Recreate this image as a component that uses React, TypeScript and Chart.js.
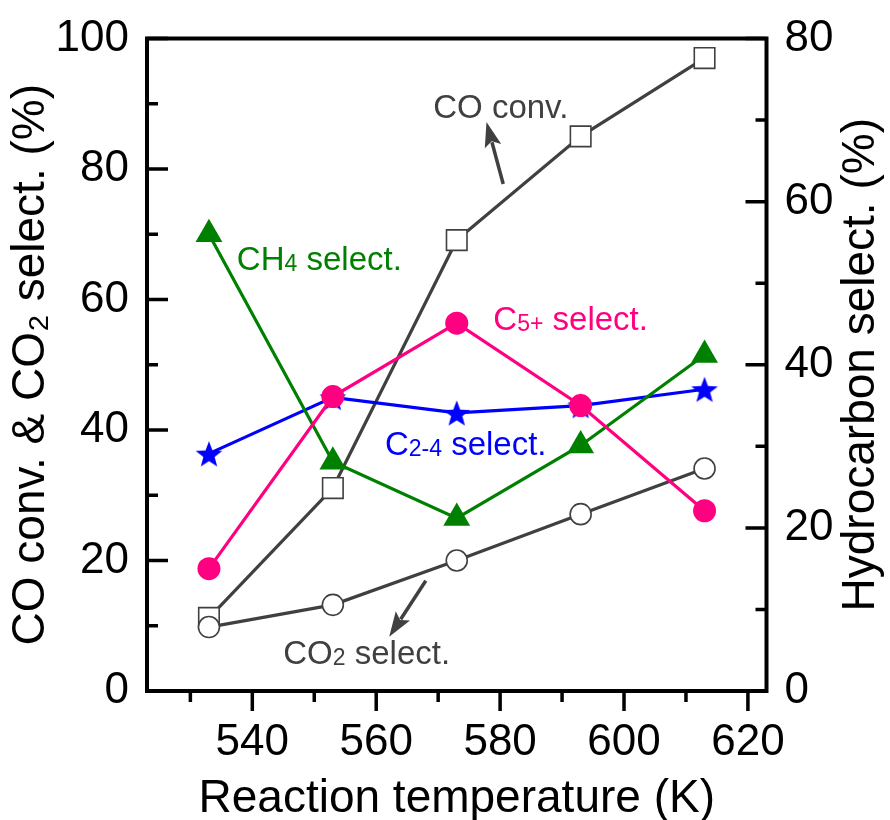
import React, { useEffect, useRef } from 'react';
import { Chart, registerables } from 'chart.js';

Chart.register(...registerables);

// ---------- data ----------
const temperatures = [533, 553, 573, 593, 613];
const coConversion = [11.2, 31.1, 69.1, 85.0, 97.0];
const co2Selectivity = [9.8, 13.2, 20.0, 27.1, 34.1];
const ch4Selectivity = [56.0, 28.1, 21.2, 30.1, 41.2];
const c5Selectivity = [15.0, 36.1, 45.1, 35.0, 22.1];
const c24Selectivity = [29.1, 36.0, 34.1, 35.0, 37.0];

const xTickValues = [540, 560, 580, 600, 620];
const xMinorValues = [530, 550, 570, 590, 610];
const leftTickValues = [0, 20, 40, 60, 80, 100];
const leftMinorValues = [10, 30, 50, 70, 90];
const rightTickValues = [0, 20, 40, 60, 80];
const rightMinorValues = [10, 30, 50, 70];

const xTitle = 'Reaction temperature (K)';
const leftTitle = 'CO conv. & CO\u2082 select. (%)';
const rightTitle = 'Hydrocarbon select. (%)';

// annotation labels: [main, subscript, rest], anchor in data units (x: K, y: left axis %)
const labelTexts = [
  ['CO conv.', '', ''],
  ['CH', '4', ' select.'],
  ['C', '5+', ' select.'],
  ['C', '2-4', ' select.'],
  ['CO', '2', ' select.'],
];
const labelX = [569.2, 537.5, 578.9, 561.4, 545.0];
const labelY = [89.7, 66.3, 57.1, 38.0, 6.0];
const labelColors = ['#404040', '#008000', '#ff0080', '#0000ff', '#404040'];

// arrows: from (x,y) to tip (x,y) in data units
const arrowFromX = [580.5, 568.0];
const arrowFromY = [77.7, 16.9];
const arrowToX = [577.8, 562.1];
const arrowToY = [87.2, 8.3];

const FONT = "'Liberation Sans', Arial, Helvetica, sans-serif";
const GRAY = '#404040';
const GREEN = '#008000';
const PINK = '#ff0080';
const BLUE = '#0000ff';

function makeStar(color: string, size: number) {
  const c = document.createElement('canvas');
  c.width = size;
  c.height = size;
  const ctx = c.getContext('2d')!;
  const cx = size / 2;
  const cy = size / 2 + 1.5;
  const R = size / 2 - 1;
  const r = R * 0.42;
  ctx.beginPath();
  for (let i = 0; i < 10; i++) {
    const rad = i % 2 === 0 ? R : r;
    const a = -Math.PI / 2 + (i * Math.PI) / 5;
    const px = cx + rad * Math.cos(a);
    const py = cy + rad * Math.sin(a);
    if (i === 0) ctx.moveTo(px, py);
    else ctx.lineTo(px, py);
  }
  ctx.closePath();
  ctx.fillStyle = color;
  ctx.fill();
  return c;
}

const decorPlugin = {
  id: 'decor',
  afterDraw(chart: any) {
    const ctx = chart.ctx;
    const { left, right, top, bottom } = chart.chartArea;
    const xs = chart.scales.x;
    const yl = chart.scales.y;
    const yr = chart.scales.y2;
    ctx.save();
    ctx.strokeStyle = '#000';
    ctx.lineCap = 'butt';
    // frame
    ctx.lineWidth = 4;
    ctx.strokeRect(left, top, right - left, bottom - top);
    ctx.lineWidth = 3.5;
    ctx.beginPath();
    // x ticks (outward)
    xTickValues.forEach((v) => {
      const px = xs.getPixelForValue(v);
      ctx.moveTo(px, bottom);
      ctx.lineTo(px, bottom + 20);
    });
    xMinorValues.forEach((v) => {
      const px = xs.getPixelForValue(v);
      ctx.moveTo(px, bottom);
      ctx.lineTo(px, bottom + 11);
    });
    // left ticks (inward)
    leftTickValues.forEach((v) => {
      const py = yl.getPixelForValue(v);
      ctx.moveTo(left, py);
      ctx.lineTo(left + 21, py);
    });
    leftMinorValues.forEach((v) => {
      const py = yl.getPixelForValue(v);
      ctx.moveTo(left, py);
      ctx.lineTo(left + 11, py);
    });
    // right ticks (inward)
    rightTickValues.forEach((v) => {
      const py = yr.getPixelForValue(v);
      ctx.moveTo(right, py);
      ctx.lineTo(right - 21, py);
    });
    rightMinorValues.forEach((v) => {
      const py = yr.getPixelForValue(v);
      ctx.moveTo(right, py);
      ctx.lineTo(right - 11, py);
    });
    ctx.stroke();

    // right axis title (reads bottom to top)
    ctx.save();
    ctx.translate(861, (top + bottom) / 2);
    ctx.rotate(-Math.PI / 2);
    ctx.fillStyle = '#000';
    ctx.font = `46px ${FONT}`;
    ctx.textAlign = 'center';
    ctx.textBaseline = 'middle';
    ctx.fillText(rightTitle, 0, 0);
    ctx.restore();

    // annotations
    const mainSize = 33;
    const subSize = 23;
    labelTexts.forEach((parts, i) => {
      let x = xs.getPixelForValue(labelX[i]);
      const y = yl.getPixelForValue(labelY[i]) + mainSize * 0.36;
      ctx.fillStyle = labelColors[i];
      ctx.textAlign = 'left';
      ctx.textBaseline = 'alphabetic';
      ctx.font = `${mainSize}px ${FONT}`;
      ctx.fillText(parts[0], x, y);
      x += ctx.measureText(parts[0]).width;
      if (parts[1]) {
        ctx.font = `${subSize}px ${FONT}`;
        ctx.fillText(parts[1], x, y + 1);
        x += ctx.measureText(parts[1]).width;
      }
      if (parts[2]) {
        ctx.font = `${mainSize}px ${FONT}`;
        ctx.fillText(parts[2], x, y);
      }
    });

    // arrows
    arrowFromX.forEach((_, i) => {
      const x0 = xs.getPixelForValue(arrowFromX[i]);
      const y0 = yl.getPixelForValue(arrowFromY[i]);
      const x1 = xs.getPixelForValue(arrowToX[i]);
      const y1 = yl.getPixelForValue(arrowToY[i]);
      const ang = Math.atan2(y1 - y0, x1 - x0);
      const headLen = 25;
      const headHalf = 8.5;
      const bx = x1 - headLen * Math.cos(ang);
      const by = y1 - headLen * Math.sin(ang);
      ctx.strokeStyle = GRAY;
      ctx.fillStyle = GRAY;
      ctx.lineWidth = 3.5;
      ctx.beginPath();
      ctx.moveTo(x0, y0);
      ctx.lineTo(bx + 4 * Math.cos(ang), by + 4 * Math.sin(ang));
      ctx.stroke();
      ctx.beginPath();
      ctx.moveTo(x1, y1);
      ctx.lineTo(bx + headHalf * Math.sin(ang), by - headHalf * Math.cos(ang));
      ctx.lineTo(bx + 5 * Math.cos(ang), by + 5 * Math.sin(ang));
      ctx.lineTo(bx - headHalf * Math.sin(ang), by + headHalf * Math.cos(ang));
      ctx.closePath();
      ctx.fill();
    });
    ctx.restore();
  },
};

function pts(values: number[]) {
  return temperatures.map((t, i) => ({ x: t, y: values[i] }));
}

export default function App() {
  const ref = useRef<HTMLCanvasElement | null>(null);
  useEffect(() => {
    if (!ref.current) return;
    Chart.defaults.font.family = FONT;
    const star = makeStar(BLUE, 30);
    const chart = new Chart(ref.current, {
      type: 'line',
      data: {
        datasets: [
          {
            label: 'C5+ select.',
            data: pts(c5Selectivity),
            yAxisID: 'y2',
            borderColor: PINK,
            backgroundColor: PINK,
            borderWidth: 3.2,
            pointStyle: 'circle',
            pointRadius: 11.5,
            pointBorderWidth: 0,
            pointBackgroundColor: PINK,
          },
          {
            label: 'CH4 select.',
            data: pts(ch4Selectivity),
            yAxisID: 'y2',
            borderColor: GREEN,
            backgroundColor: GREEN,
            borderWidth: 3.2,
            pointStyle: 'triangle',
            pointRadius: 15.5,
            pointBorderWidth: 0,
            pointBackgroundColor: GREEN,
          },
          {
            label: 'C2-4 select.',
            data: pts(c24Selectivity),
            yAxisID: 'y2',
            borderColor: BLUE,
            backgroundColor: BLUE,
            borderWidth: 3.2,
            pointStyle: star as any,
            pointRadius: 14,
          },
          {
            label: 'CO2 select.',
            data: pts(co2Selectivity),
            yAxisID: 'y',
            borderColor: GRAY,
            backgroundColor: '#ffffff',
            borderWidth: 3.2,
            pointStyle: 'circle',
            pointRadius: 10.5,
            pointBorderWidth: 1.6,
            pointBorderColor: GRAY,
            pointBackgroundColor: '#ffffff',
          },
          {
            label: 'CO conv.',
            data: pts(coConversion),
            yAxisID: 'y',
            borderColor: GRAY,
            backgroundColor: '#ffffff',
            borderWidth: 3.2,
            pointStyle: 'rect',
            pointRadius: 14.5,
            pointBorderWidth: 1.6,
            pointBorderColor: GRAY,
            pointBackgroundColor: '#ffffff',
          },
        ],
      },
      options: {
        animation: false,
        responsive: false,
        maintainAspectRatio: false,
        layout: { padding: { top: 38.5, left: 0, right: 0, bottom: 0 } },
        plugins: { legend: { display: false }, tooltip: { enabled: false } },
        scales: {
          x: {
            type: 'linear',
            min: 523,
            max: 623,
            grid: { display: false, drawTicks: false },
            border: { display: false },
            afterBuildTicks: (s: any) => {
              s.ticks = xTickValues.map((v) => ({ value: v }));
            },
            afterFit: (s: any) => {
              s.height = 129;
            },
            ticks: {
              padding: 25,
              color: '#000',
              font: { size: 44 },
              maxRotation: 0,
              autoSkip: false,
              callback: (v: any) => String(v),
            },
            title: {
              display: true,
              text: xTitle,
              color: '#000',
              font: { size: 46, lineHeight: 0.9 },
              padding: { top: 0, bottom: 0 },
            },
          },
          y: {
            type: 'linear',
            position: 'left',
            min: 0,
            max: 100,
            grid: { display: false, drawTicks: false },
            border: { display: false },
            afterBuildTicks: (s: any) => {
              s.ticks = leftTickValues.map((v) => ({ value: v }));
            },
            afterFit: (s: any) => {
              s.width = 147;
            },
            ticks: {
              padding: 18,
              color: '#000',
              font: { size: 44, lineHeight: 0.8 },
              autoSkip: false,
            },
            title: {
              display: true,
              text: leftTitle,
              color: '#000',
              font: { size: 46 },
              padding: { top: 4, bottom: 0 },
            },
          },
          y2: {
            type: 'linear',
            position: 'right',
            min: 0,
            max: 80,
            grid: { display: false, drawTicks: false },
            border: { display: false },
            afterBuildTicks: (s: any) => {
              s.ticks = rightTickValues.map((v) => ({ value: v }));
            },
            afterFit: (s: any) => {
              s.width = 123.5;
            },
            ticks: {
              padding: 18,
              color: '#000',
              font: { size: 44, lineHeight: 0.8 },
              autoSkip: false,
            },
          },
        },
      },
      plugins: [decorPlugin],
    } as any);
    return () => chart.destroy();
  }, []);
  return (
    <div style={{ position: 'absolute', left: 0, top: 0, width: 890, height: 820, background: '#fff' }}>
      <canvas ref={ref} width={890} height={820} style={{ width: 890, height: 820, display: 'block' }} />
    </div>
  );
}
